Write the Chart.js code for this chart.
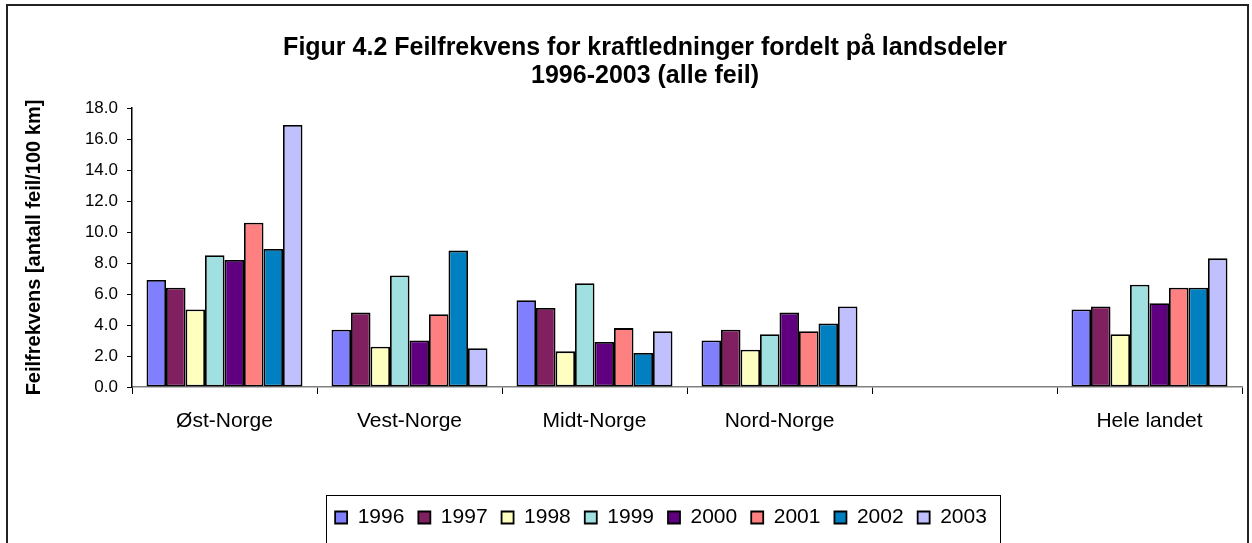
<!DOCTYPE html>
<html>
<head>
<meta charset="utf-8">
<script src="https://cdn.jsdelivr.net/npm/chart.js@4/dist/chart.umd.min.js"></script>
<style>
  body { margin: 0; background: #fff; }
  canvas { display: block; }
</style>
</head>
<body>
<canvas id="chart-canvas" width="1252" height="543"></canvas>
<script>
// Landsdeler (the empty one is a spacer column in the original sheet)
var regions = ['Øst-Norge', 'Vest-Norge', 'Midt-Norge', 'Nord-Norge', '', 'Hele landet'];
var years = ['1996', '1997', '1998', '1999', '2000', '2001', '2002', '2003'];

// Feil per 100 km, one array per year, same order as regions
var y1996 = [6.9, 3.7, 5.6, 3.0, null, 5.0];
var y1997 = [6.4, 4.8, 5.1, 3.7, null, 5.2];
var y1998 = [5.0, 2.6, 2.3, 2.4, null, 3.4];
var y1999 = [8.5, 7.2, 6.7, 3.4, null, 6.6];
var y2000 = [8.2, 3.0, 2.9, 4.8, null, 5.4];
var y2001 = [10.6, 4.7, 3.8, 3.6, null, 6.4];
var y2002 = [8.9, 8.8, 2.2, 4.1, null, 6.4];
var y2003 = [16.9, 2.5, 3.6, 5.2, null, 8.3];

var yTicks = [0, 2, 4, 6, 8, 10, 12, 14, 16, 18];

var seriesValues = [y1996, y1997, y1998, y1999, y2000, y2001, y2002, y2003];
var seriesColors = ['#8080ff', '#802060', '#ffffc0', '#a0e0e0', '#600080', '#ff8080', '#0080c0', '#c0c0ff'];

var fontFamily = "'Liberation Sans', Arial, sans-serif";

var datasets = [];
for (var i = 0; i < years.length; i++) {
  datasets.push({
    label: years[i],
    data: seriesValues[i],
    backgroundColor: seriesColors[i],
    borderColor: '#000',
    borderWidth: 1.8,
    borderSkipped: false,
    barPercentage: 1,
    categoryPercentage: 0.843
  });
}

// Outer frame of the chart object and the box round the legend.
var framePlugin = {
  id: 'frame',
  afterLayout: function (chart) {
    // Excel centres the title and legend a bit to the right of the canvas middle
    chart.titleBlock.left += 18;
    chart.titleBlock.right += 18;
    chart.legend.left += 34;
    chart.legend.right += 34;
  },
  afterDraw: function (chart) {
    var ctx = chart.ctx;
    ctx.save();
    ctx.strokeStyle = '#222';
    ctx.lineWidth = 2;
    ctx.strokeRect(7, 5, 1241, 600);

    var boxes = chart.legend.legendHitBoxes;
    if (boxes && boxes.length) {
      var first = boxes[0];
      var last = boxes[boxes.length - 1];
      ctx.lineWidth = 1;
      ctx.strokeStyle = '#000';
      ctx.strokeRect(Math.round(first.left - 9) + 0.5, Math.round(chart.legend.top + 2) + 0.5,
        Math.round(last.left + last.width + 13 - (first.left - 9)), 100);
    }
    ctx.restore();
  }
};

new Chart(document.getElementById('chart-canvas'), {
  type: 'bar',
  data: {
    labels: regions,
    datasets: datasets
  },
  options: {
    responsive: false,
    animation: false,
    layout: {
      padding: { left: 12, right: 10, top: 0, bottom: 5 }
    },
    plugins: {
      title: {
        display: true,
        text: ['Figur 4.2 Feilfrekvens for kraftledninger fordelt på landsdeler', '1996-2003 (alle feil)'],
        color: '#000',
        font: { family: fontFamily, size: 25, weight: 'bold', lineHeight: 28 / 25 },
        padding: { top: 34, bottom: 18 }
      },
      legend: {
        position: 'bottom',
        labels: {
          color: '#000',
          boxWidth: 12,
          boxHeight: 12,
          padding: 14,
          font: { family: fontFamily, size: 21 }
        }
      },
      tooltip: { enabled: false }
    },
    scales: {
      x: {
        grid: {
          drawOnChartArea: false,
          tickLength: 7,
          tickColor: '#000'
        },
        border: { color: '#808080', width: 1.5 },
        ticks: {
          color: '#000',
          padding: 15,
          maxRotation: 0,
          font: { family: fontFamily, size: 21 }
        },
        afterFit: function (scale) {
          scale.height = 106;
        }
      },
      y: {
        min: 0,
        max: 18,
        afterBuildTicks: function (scale) {
          scale.ticks = yTicks.map(function (v) { return { value: v }; });
        },
        grid: {
          drawOnChartArea: false,
          tickLength: 5,
          tickColor: '#000'
        },
        border: { color: '#000', width: 1.5 },
        ticks: {
          color: '#000',
          padding: 9,
          font: { family: fontFamily, size: 17 },
          callback: function (value) {
            return Number(value).toFixed(1);
          }
        },
        title: {
          display: true,
          text: 'Feilfrekvens [antall feil/100 km]',
          color: '#000',
          padding: { top: 10, bottom: 0 },
          font: { family: fontFamily, size: 20, weight: 'bold' }
        },
        afterFit: function (scale) {
          scale.width = 120;
        }
      }
    }
  },
  plugins: [framePlugin]
});
</script>
</body>
</html>
